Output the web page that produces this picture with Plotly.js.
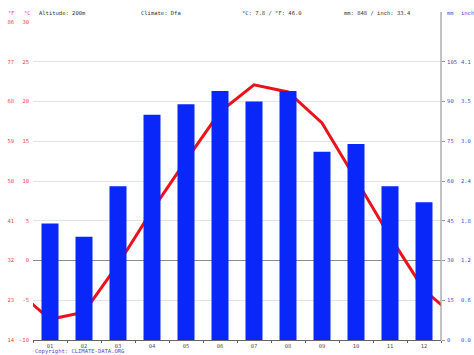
<!DOCTYPE html>
<html>
<head>
<meta charset="utf-8">
<script src="https://cdn.plot.ly/plotly-3.0.1.min.js"></script>
<style>html,body{margin:0;padding:0;background:#fff;}#chart{width:474px;height:355px;}</style>
</head>
<body>
<div id="chart"></div>
<script>
const months = ['01','02','03','04','05','06','07','08','09','10','11','12'];
const precipMm = [44, 39, 58, 85, 89, 94, 90, 94, 71, 74, 58, 52];
const tempC = [-7.4, -6.5, -0.5, 6.3, 12.6, 18.7, 22.1, 21.2, 17.3, 10.2, 3.0, -3.7];
const tickC = [-10, -5, 0, 5, 10, 15, 20, 25, 30];
const tickF = ['14', '23', '32', '41', '50', '59', '68', '77', '86'];
const tickMm = [0, 15, 30, 45, 60, 75, 90, 105];
const tickInch = ['0.0', '0.6', '1.2', '1.8', '2.4', '3.0', '3.5', '4.1'];
const headerTexts = ['Altitude: 200m', 'Climate: Dfa', '°C: 7.8 / °F: 46.0', 'mm: 848 / inch: 33.4'];

const monthIdx = months.map((m, i) => i + 1);
// line wraps around the year: previous December before January, next January after December
const lineX = [0].concat(monthIdx, [13]);
const lineY = [tempC[11]].concat(tempC, [tempC[0]]);

const FONT = 'DejaVu Sans Mono, Liberation Mono, monospace';
const RED = '#e8494a';
const BLUE = '#3a4fd0';
const GREY = '#555';

const L = 33, R = 33, T = 22, B = 15, W = 474, H = 355;
const pw = W - L - R, ph = H - T - B;
const px = x => (x - L) / pw;
const py = y => (H - B - y) / ph;

const traces = [
  {
    type: 'bar', x: monthIdx, y: precipMm, yaxis: 'y2', width: 0.5,
    marker: {color: '#0a27fa', line: {width: 0}}, hoverinfo: 'skip'
  },
  {
    type: 'scatter', mode: 'lines', x: lineX, y: lineY, yaxis: 'y',
    line: {color: '#e8141b', width: 3}, cliponaxis: true, hoverinfo: 'skip'
  }
];

const hdrX = [37, 139, 240, 342];
const annotations = headerTexts.map((t, i) => ({
  text: t, xref: 'paper', yref: 'paper', x: px(hdrX[i]), y: py(13),
  xanchor: 'left', yanchor: 'middle', showarrow: false,
  font: {family: FONT, size: 5.5, color: '#333'}
}));
annotations.push(
  {text: '°F', xref: 'paper', yref: 'paper', x: px(11), y: py(13), xanchor: 'center', yanchor: 'middle', showarrow: false, font: {family: FONT, size: 5.5, color: RED}},
  {text: '°C', xref: 'paper', yref: 'paper', x: px(27), y: py(13), xanchor: 'center', yanchor: 'middle', showarrow: false, font: {family: FONT, size: 5.5, color: RED}},
  {text: 'mm', xref: 'paper', yref: 'paper', x: px(445), y: py(13), xanchor: 'left', yanchor: 'middle', showarrow: false, font: {family: FONT, size: 5.5, color: BLUE}},
  {text: 'inch', xref: 'paper', yref: 'paper', x: px(459), y: py(13), xanchor: 'left', yanchor: 'middle', showarrow: false, font: {family: FONT, size: 5.5, color: BLUE}},
  {text: 'Copyright: CLIMATE-DATA.ORG', xref: 'paper', yref: 'paper', x: px(33), y: py(351.5), xanchor: 'left', yanchor: 'middle', showarrow: false, font: {family: FONT, size: 5.5, color: BLUE}}
);

const layout = {
  width: W, height: H,
  margin: {l: L, r: R, t: T, b: B, pad: 0},
  paper_bgcolor: '#fff', plot_bgcolor: '#fff',
  showlegend: false,
  font: {family: FONT, size: 6},
  xaxis: {
    range: [0.5, 12.5], tickvals: monthIdx, ticktext: months,
    tickfont: {family: FONT, size: 5.5, color: GREY}, ticks: '',
    showgrid: false, zeroline: false, showline: true, linecolor: '#666', linewidth: 1,
    ticklabelstandoff: 0, fixedrange: true,
    minor: {tickvals: [0.5,1.5,2.5,3.5,4.5,5.5,6.5,7.5,8.5,9.5,10.5,11.5,12.5], ticks: 'outside', ticklen: 2, tickcolor: '#666', showgrid: false}
  },
  yaxis: {
    range: [-10, 30], tickvals: tickC, ticktext: tickC.map(String),
    tickfont: {family: FONT, size: 5.5, color: RED}, ticks: '',
    ticklabelstandoff: 3,
    showgrid: true, gridcolor: '#e3e3e3', gridwidth: 1,
    zeroline: true, zerolinecolor: '#8a8a8a', zerolinewidth: 1,
    showline: false, fixedrange: true
  },
  yaxis3: {
    overlaying: 'y', side: 'left', anchor: 'x',
    range: [-10, 30], tickvals: tickC, ticktext: tickF,
    tickfont: {family: FONT, size: 5.5, color: RED}, ticks: '',
    ticklabelstandoff: 18,
    showgrid: false, zeroline: false, showline: false, fixedrange: true
  },
  yaxis2: {
    overlaying: 'y', side: 'right', anchor: 'x',
    range: [0, 120], tickvals: tickMm, ticktext: tickMm.map(String),
    tickfont: {family: FONT, size: 5.5, color: BLUE},
    ticks: 'outside', ticklen: 3, tickcolor: '#999',
    ticklabelstandoff: 1,
    showgrid: false, zeroline: false, showline: false, fixedrange: true
  },
  yaxis4: {
    overlaying: 'y', side: 'right', anchor: 'x',
    range: [0, 120], tickvals: tickMm, ticktext: tickInch,
    tickfont: {family: FONT, size: 5.5, color: BLUE}, ticks: '',
    ticklabelstandoff: 19,
    showgrid: false, zeroline: false, showline: false, fixedrange: true
  },
  shapes: [
    {type: 'line', xref: 'paper', yref: 'paper', x0: 1, x1: 1, y0: 0, y1: py(12), line: {color: '#999', width: 1.2}}
  ],
  annotations: annotations
};

// invisible helper traces so the extra label axes render
traces.push({type: 'scatter', x: [1], y: [0], yaxis: 'y3', mode: 'markers', marker: {opacity: 0}, hoverinfo: 'skip'});
traces.push({type: 'scatter', x: [1], y: [0], yaxis: 'y4', mode: 'markers', marker: {opacity: 0}, hoverinfo: 'skip'});

Plotly.newPlot('chart', traces, layout, {staticPlot: true, displayModeBar: false});
</script>
</body>
</html>
